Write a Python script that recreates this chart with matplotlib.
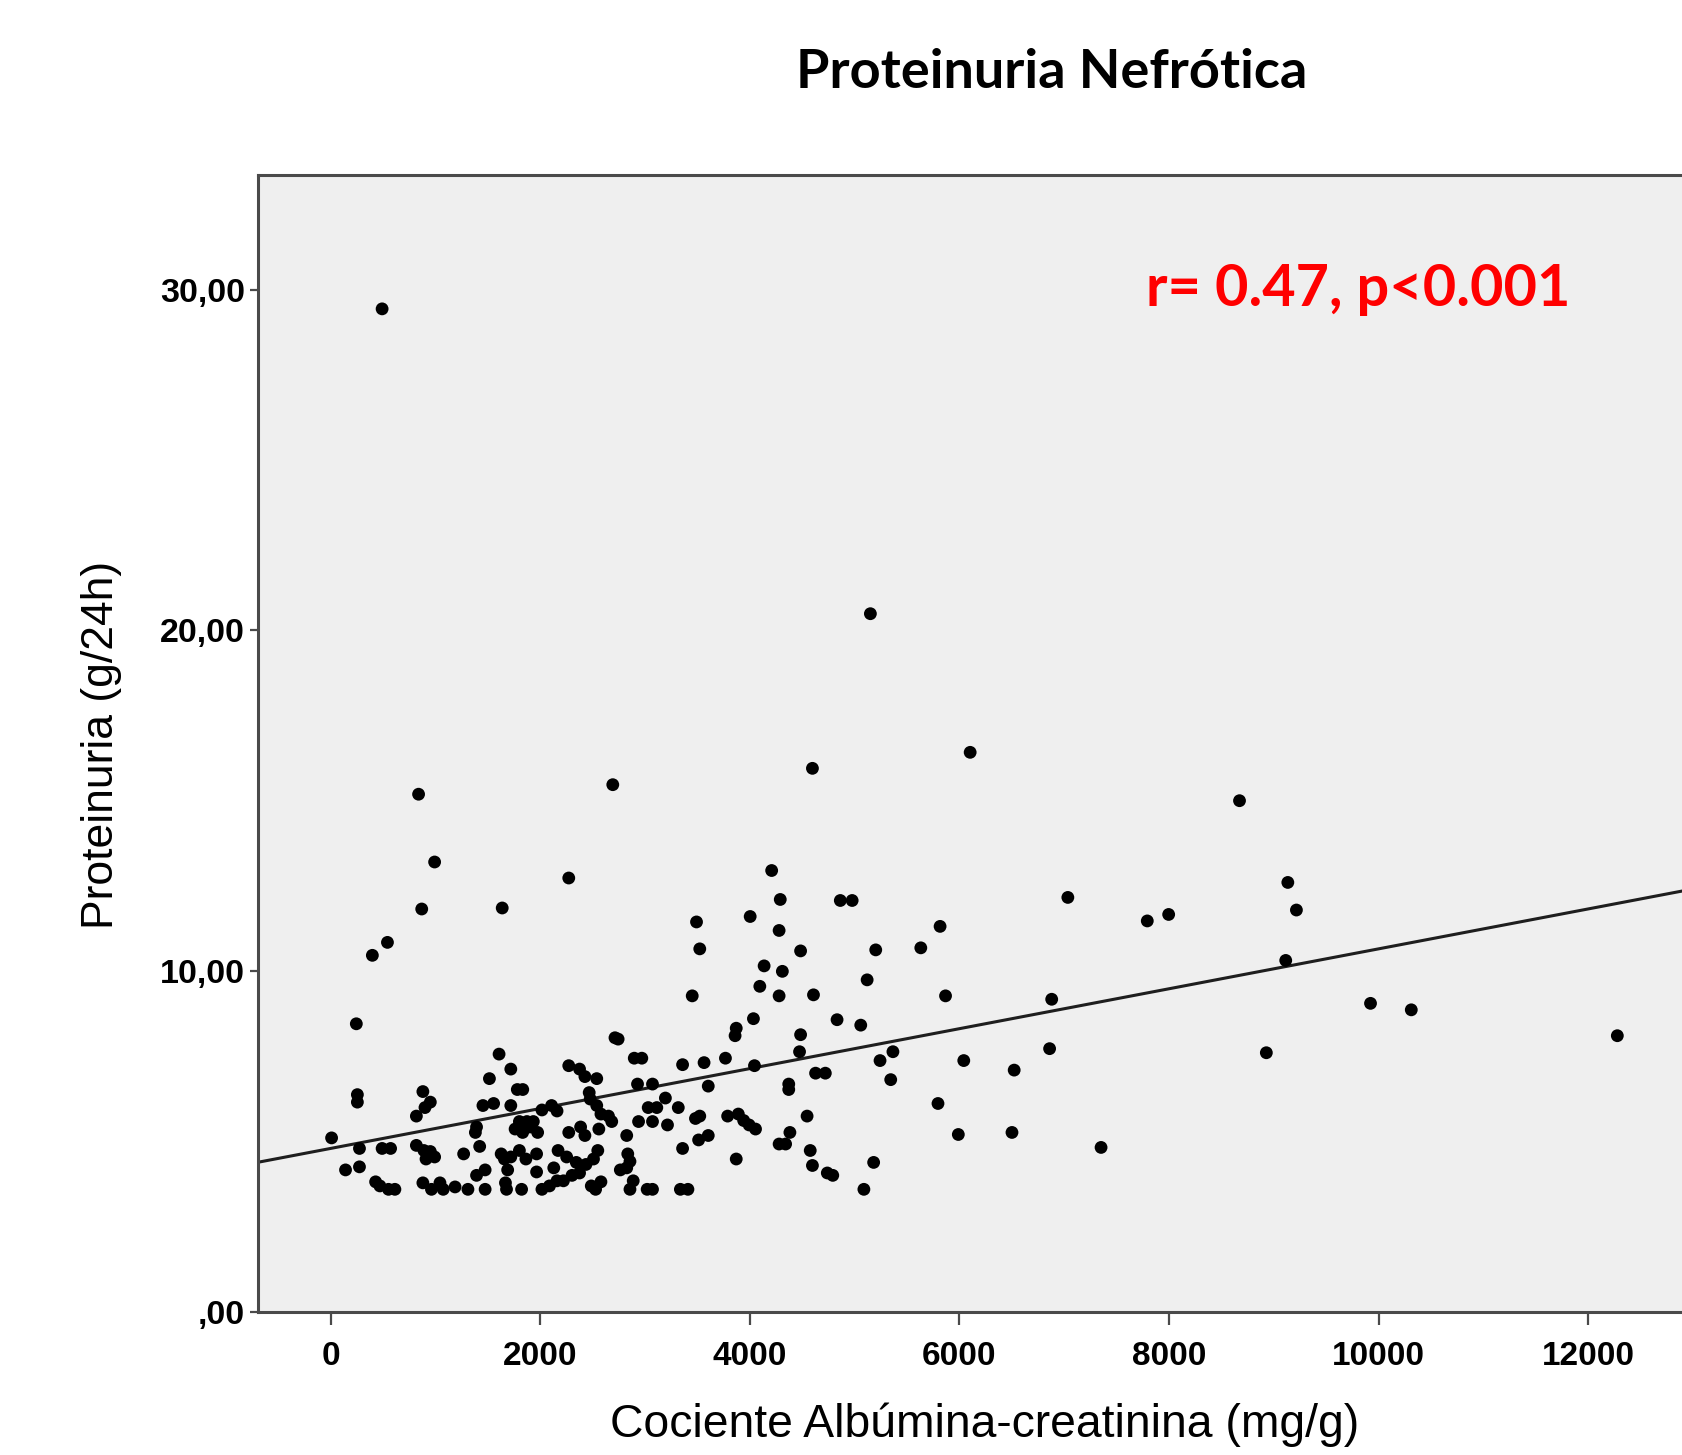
import matplotlib
matplotlib.use("Agg")
import matplotlib.pyplot as plt
from matplotlib import font_manager as fm
import numpy as np

# ---------------- data ----------------
x_acr = [
    492, 5151, 6103, 4598, 2693, 840, 8673, 993, 4209, 2273, 9134, 4291, 4864, 4977, 7035,
    870, 1638, 9216, 7997, 4004, 7793, 3492, 5816, 4280, 543, 399, 3523, 5632, 5202, 4485,
    9114, 4137, 4311, 5120, 4096, 3451, 4280, 4608, 5868, 6881, 9923, 10312, 4035, 4833, 5059,
    246, 3871, 3860, 12278, 4485, 2714, 2744, 4045, 6861, 4475, 8929, 5366, 1608, 3768, 2898,
    2970, 3564, 3359, 5243, 6042, 2273, 1720, 2376, 4628, 4721, 6523, 2427, 2540, 5345, 1516,
    4372, 4372, 3072, 3604, 1782, 1834, 2929, 881, 256, 256, 952, 901, 2468, 2478, 2540,
    5796, 1556, 1454, 1720, 2017, 2109, 2161, 3195, 3031, 3113, 3318, 2580, 2683, 2652, 819,
    3482, 3523, 3789, 3891, 3942, 3994, 4055, 4547, 4383, 1393, 1802, 1874, 1935, 1761, 1833,
    1905, 1976, 1382, 2386, 2273, 2427, 2560, 2939, 3072, 3215, 3604, 3512, 3359, 2826, 10,
    5990, 6502, 7352, 276, 492, 573, 819, 891, 952, 993, 911, 1270, 1423, 1628, 1720,
    1802, 1659, 1864, 1966, 2171, 2253, 2345, 2437, 2509, 2550, 2836, 2857, 2826, 4280, 4342,
    4577, 3871, 4598, 4740, 4792, 5182, 143, 276, 430, 471, 553, 614, 881, 963, 1044,
    1075, 1188, 1311, 1475, 1669, 1679, 1823, 1966, 2017, 2089, 2161, 2222, 2304, 2376, 2488,
    2529, 2580, 2765, 2888, 2857, 3021, 3072, 3338, 3410, 5089, 1475, 1393, 1690, 2130,
]
y_prot = [
    29.44, 20.49, 16.42, 15.95, 15.47, 15.19, 15.00, 13.20, 12.95, 12.73, 12.60, 12.10, 12.07, 12.07, 12.16,
    11.82, 11.85, 11.79, 11.66, 11.60, 11.47, 11.44, 11.31, 11.19, 10.84, 10.46, 10.65, 10.68, 10.62, 10.59,
    10.31, 10.15, 9.99, 9.74, 9.55, 9.27, 9.27, 9.30, 9.27, 9.17, 9.05, 8.86, 8.60, 8.57, 8.41,
    8.45, 8.32, 8.10, 8.10, 8.13, 8.04, 8.00, 7.22, 7.72, 7.63, 7.60, 7.63, 7.56, 7.44, 7.44,
    7.44, 7.31, 7.25, 7.37, 7.37, 7.22, 7.12, 7.12, 7.00, 7.00, 7.09, 6.90, 6.84, 6.81, 6.84,
    6.68, 6.52, 6.68, 6.62, 6.52, 6.52, 6.68, 6.46, 6.37, 6.15, 6.15, 5.99, 6.43, 6.24, 6.05,
    6.11, 6.11, 6.05, 6.05, 5.92, 6.05, 5.89, 6.27, 5.99, 5.99, 5.99, 5.80, 5.58, 5.74, 5.74,
    5.67, 5.74, 5.74, 5.80, 5.61, 5.48, 5.36, 5.74, 5.26, 5.42, 5.58, 5.58, 5.58, 5.36, 5.26,
    5.42, 5.26, 5.26, 5.42, 5.26, 5.17, 5.36, 5.58, 5.58, 5.48, 5.17, 5.04, 4.79, 5.17, 5.10,
    5.20, 5.26, 4.82, 4.79, 4.79, 4.79, 4.88, 4.73, 4.70, 4.54, 4.48, 4.63, 4.85, 4.63, 4.54,
    4.73, 4.48, 4.48, 4.63, 4.73, 4.54, 4.38, 4.32, 4.48, 4.73, 4.63, 4.41, 4.22, 4.92, 4.92,
    4.73, 4.48, 4.29, 4.07, 4.00, 4.38, 4.16, 4.25, 3.81, 3.69, 3.59, 3.59, 3.78, 3.59, 3.78,
    3.59, 3.66, 3.59, 3.59, 3.78, 3.59, 3.59, 4.10, 3.59, 3.69, 3.84, 3.84, 4.00, 4.07, 3.69,
    3.59, 3.81, 4.16, 3.84, 3.59, 3.59, 3.59, 3.59, 3.59, 3.59, 4.16, 4.00, 4.16, 4.22,
]
fit_intercept = 4.79      # regression line
fit_slope = 0.000586
x_ticks = [0, 2000, 4000, 6000, 8000, 10000, 12000]
x_ticklabels = ["0", "2000", "4000", "6000", "8000", "10000", "12000"]
y_ticks = [0, 10, 20, 30]
y_ticklabels = [",00", "10,00", "20,00", "30,00"]

title_text = "Proteinuria Nefrótica"
annot_text = "r= 0.47, p<0.001"
xlabel_text = "Cociente Albúmina-creatinina (mg/g)"
ylabel_text = "Proteinuria (g/24h)"

# ---------------- fonts ----------------
names = {f.name for f in fm.fontManager.ttflist}
narrow = "Liberation Sans Narrow" if "Liberation Sans Narrow" in names else "Liberation Sans"
head = "Lato" if "Lato" in names else "DejaVu Sans"

# ---------------- figure ----------------
W, H = 1683, 1455
fig = plt.figure(figsize=(W / 100, H / 100), dpi=100)
fig.patch.set_facecolor("white")

xmin, xmax = -696, 13500
ymin, ymax = 0, 33.37
left_px, bottom_px, top_px = 257.6, 1311.6, 175.0
right_px = 330.6 + xmax / 1000 * 104.8
ax = fig.add_axes([left_px / W, (H - bottom_px) / H,
                   (right_px - left_px) / W, (bottom_px - top_px) / H])
ax.set_facecolor("#efefef")
ax.set_xlim(xmin, xmax)
ax.set_ylim(ymin, ymax)

ax.scatter(x_acr, y_prot, s=85, color="black", edgecolors="none", zorder=3)
xl = np.array([xmin, xmax])
ax.plot(xl, fit_intercept + fit_slope * xl, color="#1e1e1e", lw=2.2, zorder=2)

for side in ["left", "bottom", "top", "right"]:
    ax.spines[side].set_color("#4a4a4a")
    ax.spines[side].set_linewidth(2.2)

ax.set_xticks(x_ticks)
ax.set_xticklabels(x_ticklabels, fontfamily=narrow, fontweight="bold", fontsize=24)
ax.set_yticks(y_ticks)
ax.set_yticklabels(y_ticklabels, fontfamily=narrow, fontweight="bold", fontsize=24.5)
ax.tick_params(axis="x", direction="out", length=9, width=1.6, color="#4a4a4a", pad=12)
ax.tick_params(axis="y", direction="out", length=6, width=1.6, color="#4a4a4a", pad=3)

fig.text(985 / W, 1 - 1425 / H, xlabel_text, fontfamily="Liberation Sans",
         fontsize=33.3, ha="center", va="center")
fig.text(102 / W, 1 - 745 / H, ylabel_text, fontfamily="Liberation Sans",
         fontsize=32, ha="center", va="center", rotation=90)

fig.text(1052 / W, 1 - 73 / H, title_text, fontfamily=head, fontweight="bold",
         fontsize=39, ha="center", va="center")
fig.text(1146 / W, 1 - 290 / H, annot_text, fontfamily=head, fontweight="bold",
         fontsize=41.5, color="#ff0000", ha="left", va="center")

fig.savefig("out.png", dpi=100)
